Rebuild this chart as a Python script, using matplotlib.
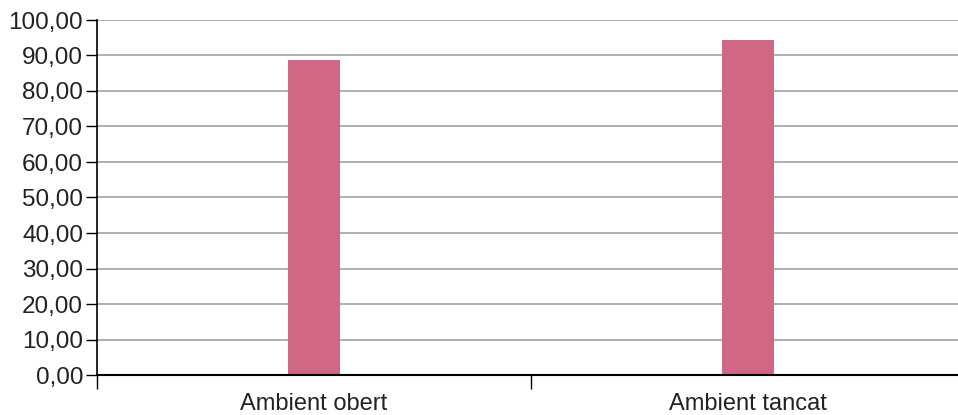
import numpy as np
import matplotlib.pyplot as plt
from matplotlib.ticker import FuncFormatter

categories = ['Ambient obert', 'Ambient tancat']
values = [88.7, 94.4]

plt.rcParams['font.family'] = ['Liberation Sans', 'DejaVu Sans']

fig = plt.figure(figsize=(9.58, 4.15), dpi=100)
ax = fig.add_axes([97 / 958, 40 / 415, 868 / 958, 355 / 415])

X = np.arange(len(categories))
ax.bar(X, values, width=0.122, color='#cf6785', zorder=3)

ax.set_xlim(-0.5, 1.5)
ax.set_ylim(0, 100)
ax.set_yticks(np.arange(0, 101, 10))
ax.yaxis.set_major_formatter(FuncFormatter(lambda v, p: f'{v:.2f}'.replace('.', ',')))
ax.grid(axis='y', color='#aaaaaa', linewidth=1.3, zorder=0)

ax.set_xticks(X)
ax.set_xticklabels(categories)
ax.set_xticks([-0.5, 0.5, 1.5], minor=True)
ax.tick_params(axis='x', which='major', length=0, pad=13, labelsize=17, labelcolor='#222222')
ax.tick_params(axis='x', which='minor', length=10, width=1, color='black')
ax.tick_params(axis='y', length=8, width=1, labelsize=17.5, labelcolor='#222222', pad=2)

for s in ['top', 'right']:
    ax.spines[s].set_visible(False)
ax.spines['left'].set_linewidth(1.2)
ax.spines['bottom'].set_linewidth(1.5)
ax.spines['bottom'].set_zorder(4)

fig.savefig('out.png', dpi=100)
